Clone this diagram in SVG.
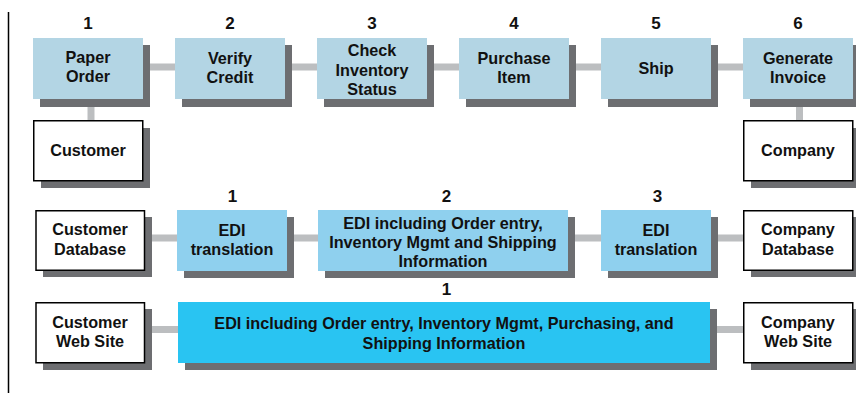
<svg xmlns="http://www.w3.org/2000/svg" width="856" height="393" viewBox="0 0 856 393">
<style>
text{font-family:"Liberation Sans",Arial,sans-serif;font-weight:bold;font-size:16.2px;fill:#111;text-anchor:middle}
.num{font-size:17px}
.sh{fill:#6d6e71}
.p1{fill:#b3d5e4}
.p2{fill:#8fd0ee}
.p3{fill:#29c4f2}
.wb{fill:#fff;stroke:#000;stroke-width:1.5}
.c{stroke:#bcbec0;stroke-width:7;fill:none}
</style>
<rect width="856" height="393" fill="#fff"/>
<line x1="8.5" y1="12" x2="8.5" y2="393" stroke="#000" stroke-width="1.5"/>
<g id="connectors">
<line class="c" x1="88" y1="67" x2="798" y2="67"/>
<line class="c" x1="91" y1="98" x2="91" y2="122"/>
<line class="c" x1="799.5" y1="98" x2="799.5" y2="122"/>
<line class="c" x1="90" y1="238" x2="798" y2="238"/>
<line class="c" x1="90" y1="329.5" x2="798" y2="329.5"/>
</g>
<g id="n1"><text class="num" x="88" y="29">1</text><rect class="sh" x="40" y="45" width="110" height="62"/><rect class="p1" x="33" y="38" width="110" height="61"/><text x="88" y="63">Paper</text><text x="88" y="82">Order</text></g>
<g id="n2"><text class="num" x="230" y="29">2</text><rect class="sh" x="182" y="45" width="110" height="62"/><rect class="p1" x="175" y="38" width="110" height="61"/><text x="230" y="64">Verify</text><text x="230" y="83">Credit</text></g>
<g id="n3"><text class="num" x="372" y="29">3</text><rect class="sh" x="324" y="45" width="110" height="62"/><rect class="p1" x="317" y="38" width="110" height="61"/><text x="372" y="56">Check</text><text x="372" y="75.5">Inventory</text><text x="372" y="95">Status</text></g>
<g id="n4"><text class="num" x="514" y="29">4</text><rect class="sh" x="466" y="45" width="110" height="62"/><rect class="p1" x="459" y="38" width="110" height="61"/><text x="514" y="64">Purchase</text><text x="514" y="83">Item</text></g>
<g id="n5"><text class="num" x="656" y="29">5</text><rect class="sh" x="608" y="45" width="110" height="62"/><rect class="p1" x="601" y="38" width="110" height="61"/><text x="656" y="73.5">Ship</text></g>
<g id="n6"><text class="num" x="798" y="29">6</text><rect class="sh" x="750" y="45" width="110" height="62"/><rect class="p1" x="743" y="38" width="110" height="61"/><text x="798" y="64">Generate</text><text x="798" y="83">Invoice</text></g>
<g id="customer"><rect class="sh" x="41" y="128" width="109" height="60"/><rect class="wb" x="33.75" y="120.75" width="109" height="60"/><text x="88" y="155.5">Customer</text></g>
<g id="company"><rect class="sh" x="751" y="128" width="109" height="60"/><rect class="wb" x="743.75" y="120.75" width="109" height="60"/><text x="798" y="155.5">Company</text></g>
<g id="custdb"><rect class="sh" x="43" y="217" width="109" height="60"/><rect class="wb" x="36" y="210.75" width="108.5" height="59.5"/><text x="90" y="235">Customer</text><text x="90" y="255">Database</text></g>
<g id="edi1"><text class="num" x="232.5" y="201.5">1</text><rect class="sh" x="184" y="217" width="110" height="61"/><rect class="p2" x="177" y="210" width="110" height="61"/><text x="232" y="235.5">EDI</text><text x="232" y="255">translation</text></g>
<g id="edi2"><text class="num" x="446.5" y="201.5">2</text><rect class="sh" x="325" y="217" width="250" height="61"/><rect class="p2" x="318" y="210" width="250" height="61"/><text x="443" y="228.5">EDI including Order entry,</text><text x="443" y="248">Inventory Mgmt and Shipping</text><text x="443" y="267">Information</text></g>
<g id="edi3"><text class="num" x="657.5" y="201.5">3</text><rect class="sh" x="608" y="217" width="110" height="61"/><rect class="p2" x="601" y="210" width="110" height="61"/><text x="656" y="235.5">EDI</text><text x="656" y="255">translation</text></g>
<g id="compdb"><rect class="sh" x="751" y="217" width="109" height="60"/><rect class="wb" x="743.75" y="210.75" width="109" height="59.5"/><text x="798" y="235">Company</text><text x="798" y="255">Database</text></g>
<g id="custweb"><rect class="sh" x="43" y="309" width="109" height="61"/><rect class="wb" x="36" y="302.75" width="108.5" height="60"/><text x="90" y="328">Customer</text><text x="90" y="347">Web Site</text></g>
<g id="ediweb"><text class="num" x="446.5" y="295">1</text><rect class="sh" x="185" y="309" width="532" height="61"/><rect class="p3" x="178" y="302" width="532" height="61"/><text x="444" y="329">EDI including Order entry, Inventory Mgmt, Purchasing, and</text><text x="444" y="348.5">Shipping Information</text></g>
<g id="compweb"><rect class="sh" x="751" y="309" width="109" height="61"/><rect class="wb" x="743.75" y="302.75" width="109" height="60"/><text x="798" y="328">Company</text><text x="798" y="347">Web Site</text></g>
</svg>
